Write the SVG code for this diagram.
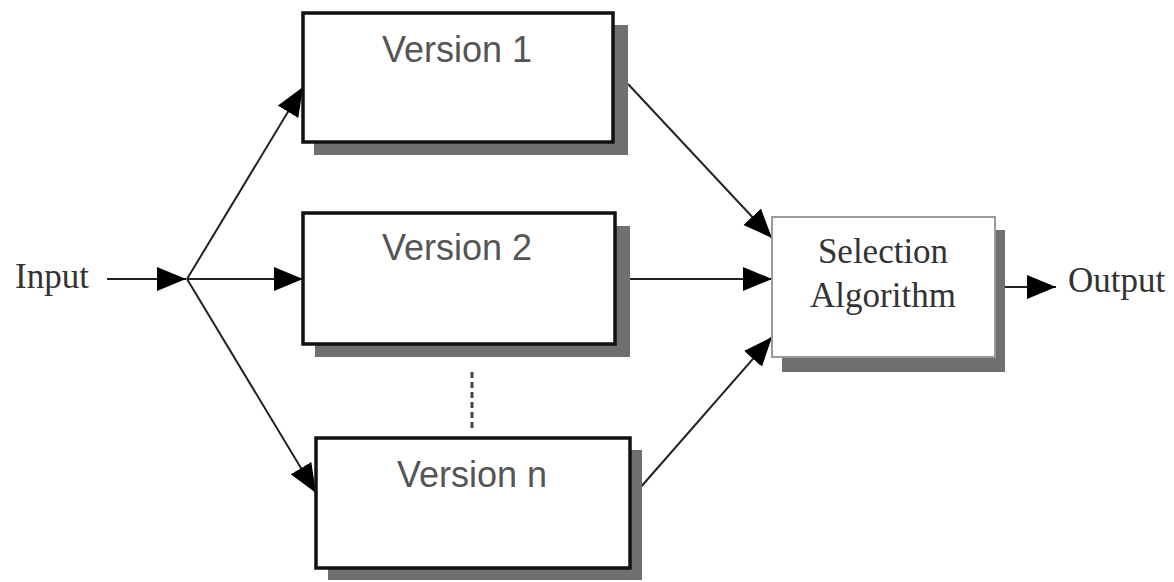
<svg xmlns="http://www.w3.org/2000/svg" width="1174" height="582" viewBox="0 0 1174 582">
  <defs>
    <marker id="arrow" markerUnits="userSpaceOnUse" markerWidth="30" markerHeight="26" refX="29" refY="12" orient="auto" viewBox="0 0 30 26">
      <path d="M0,0 L29,12 L0,24 z" fill="#000"/>
    </marker>
    <style>
      .box { fill: #fff; stroke: #111; stroke-width: 3.5; }
      .shadow { fill: #707070; }
      .sel { fill: #fff; stroke: #999; stroke-width: 2; }
      .vlabel { font-family: "Liberation Sans", Arial, sans-serif; font-size: 36px; fill: #555; text-anchor: middle; }
      .slabel { font-family: "Liberation Serif", "Times New Roman", serif; font-size: 35px; fill: #333; text-anchor: middle; }
      .plain { font-family: "Liberation Serif", "Times New Roman", serif; font-size: 35px; fill: #333; }
      .conn { stroke: #222; stroke-width: 2; fill: none; }
      .dash { stroke: #444; stroke-width: 3; stroke-dasharray: 6 4; fill: none; }
    </style>
  </defs>
  <rect width="1174" height="582" fill="#fff"/>

  <g id="connectors">
    <line class="conn" x1="107" y1="279" x2="186" y2="279" marker-end="url(#arrow)"/>
    <line class="conn" x1="187" y1="279" x2="303" y2="87" marker-end="url(#arrow)"/>
    <line class="conn" x1="187" y1="279" x2="303" y2="279" marker-end="url(#arrow)"/>
    <line class="conn" x1="187" y1="279" x2="316" y2="493" marker-end="url(#arrow)"/>
    <line class="conn" x1="628" y1="84" x2="772" y2="238" marker-end="url(#arrow)"/>
    <line class="conn" x1="630" y1="279" x2="772" y2="279" marker-end="url(#arrow)"/>
    <line class="conn" x1="640" y1="488" x2="772" y2="337" marker-end="url(#arrow)"/>
    <line class="conn" x1="1005" y1="287" x2="1056" y2="287" marker-end="url(#arrow)"/>
    <line class="dash" x1="472" y1="372" x2="472" y2="430"/>
  </g>

  <g id="input">
    <text class="plain" x="15" y="288">Input</text>
  </g>

  <g id="version1">
    <rect class="shadow" x="314" y="25" width="314" height="130"/>
    <rect class="box" x="303" y="13" width="310" height="129"/>
    <text class="vlabel" x="457" y="62">Version 1</text>
  </g>

  <g id="version2">
    <rect class="shadow" x="315" y="226" width="315" height="131"/>
    <rect class="box" x="303" y="213" width="312" height="131"/>
    <text class="vlabel" x="457" y="260">Version 2</text>
  </g>

  <g id="versionn">
    <rect class="shadow" x="328" y="450" width="314" height="130"/>
    <rect class="box" x="316" y="438" width="314" height="130"/>
    <text class="vlabel" x="472" y="487">Version n</text>
  </g>

  <g id="selection">
    <rect class="shadow" x="782" y="230" width="223" height="142"/>
    <rect class="sel" x="772" y="217" width="223" height="140"/>
    <text class="slabel" x="883" y="263">Selection</text>
    <text class="slabel" x="883" y="307">Algorithm</text>
  </g>

  <g id="output">
    <text class="plain" x="1068" y="292">Output</text>
  </g>
</svg>
